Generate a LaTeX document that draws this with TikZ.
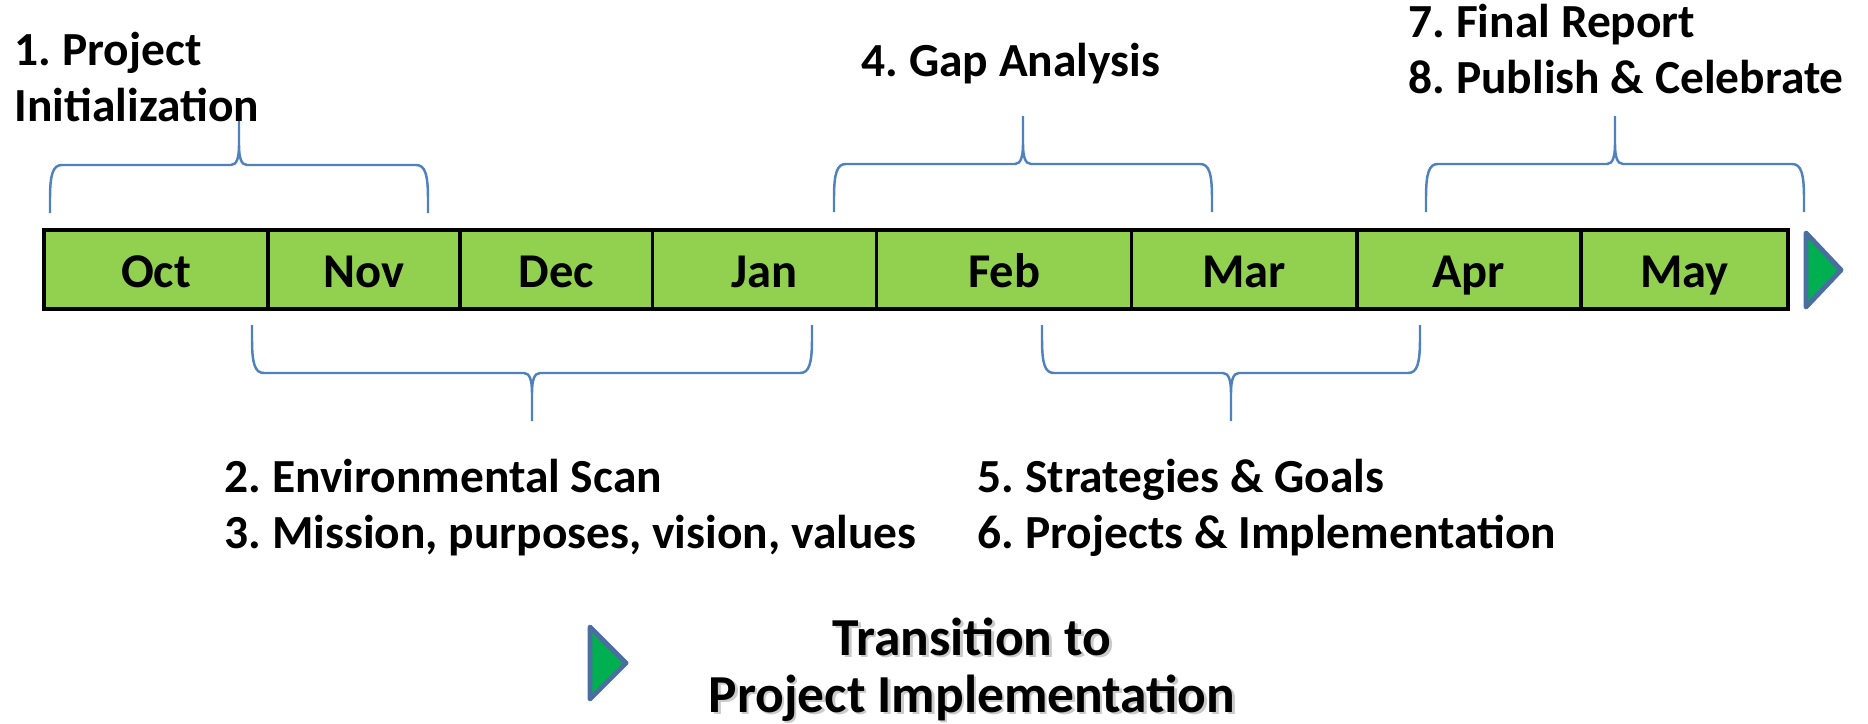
\documentclass[tikz,border=0pt]{standalone}
\usepackage{fontspec}
\setmainfont{Carlito}
\usepackage{tikz}
\definecolor{monthgreen}{RGB}{146,208,80}
\definecolor{braceblue}{RGB}{79,129,189}
\definecolor{markgreen}{RGB}{0,176,80}
\definecolor{markedge}{RGB}{74,110,160}
\usetikzlibrary{positioning}
\frenchspacing

\begin{document}
\begin{tikzpicture}[
    x=0.01cm, y=-0.01cm,
    month/.style={rectangle, draw=black, line width=1pt, fill=monthgreen, minimum height=0.79cm, inner sep=0pt, outer sep=0pt, text height=12pt, text depth=1.5pt, font=\fontsize{13.8}{15}\selectfont\bfseries},
    phase/.style={font=\fontsize{13.5}{15.7}\selectfont\bfseries, align=left, inner sep=0pt, anchor=base west},
    bigphase/.style={font=\fontsize{15.2}{16.2}\selectfont\bfseries, align=center, inner sep=0pt, anchor=base},
    playmark/.style={draw=markedge, fill=markgreen, line width=1.4pt, line join=round},
    pics/phasebrace/.style={code={
        \draw[braceblue, line width=0.7pt]
          (-#1,96) -- (-#1,82) .. controls (-#1,57) and (-#1+3,48) .. (-#1+12,48)
          -- (-8,48) .. controls (-2,48) and (0,40) .. (0,28) -- (0,0)
          -- (0,28) .. controls (0,40) and (2,48) .. (8,48)
          -- (#1-12,48) .. controls (#1-3,48) and (#1,57) .. (#1,82) -- (#1,96);
    }},
]
\useasboundingbox (0,0) rectangle (1868,724);

% Month bar
\node (oct) [month, minimum width=2.24cm, anchor=north west] at (44,230) {Oct};
\node (nov) [month, minimum width=1.92cm, right=0pt of oct] {Nov};
\node (dec) [month, minimum width=1.92cm, right=0pt of nov] {Dec};
\node (jan) [month, minimum width=2.24cm, right=0pt of dec] {Jan};
\node (feb) [month, minimum width=2.55cm, right=0pt of jan] {Feb};
\node (mar) [month, minimum width=2.25cm, right=0pt of feb] {Mar};
\node (apr) [month, minimum width=2.24cm, right=0pt of mar] {Apr};
\node (may) [month, minimum width=2.07cm, right=0pt of apr] {May};

% Play marker after the bar
\draw[playmark] (1806,233) -- (1841,270) -- (1806,307) -- cycle;

% Braces above the bar
\pic at (239,117) {phasebrace=189};
\pic at (1023,116) {phasebrace=189};
\pic at (1615,116) {phasebrace=189};

% Braces below the bar
\pic[yscale=-1] at (532,421) {phasebrace=280};
\pic[yscale=-1] at (1231,421) {phasebrace=189};

% Phase labels (base = last line)
\node (init) [phase] at (14,121) {1. Project\\Initialization};
\node (gap) [phase] at (861,76) {4. Gap Analysis};
\node (final) [phase] at (1408,93) {7. Final Report\\8. Publish \& Celebrate};
\node (scan) [phase] at (224,548) {2. Environmental Scan\\3. Mission, purposes, vision, values};
\node (strat) [phase] at (977,548) {5. Strategies \& Goals\\6. Projects \& Implementation};

% Transition
\draw[playmark] (590,627) -- (626,663) -- (590,699) -- cycle;
\node (transshadow) [bigphase, text=black!35, opacity=0.6] at (974.5,714.5) {Transition to\\Project Implementation};
\node (trans) [bigphase] at (972,712) {Transition to\\Project Implementation};

\end{tikzpicture}
\end{document}
